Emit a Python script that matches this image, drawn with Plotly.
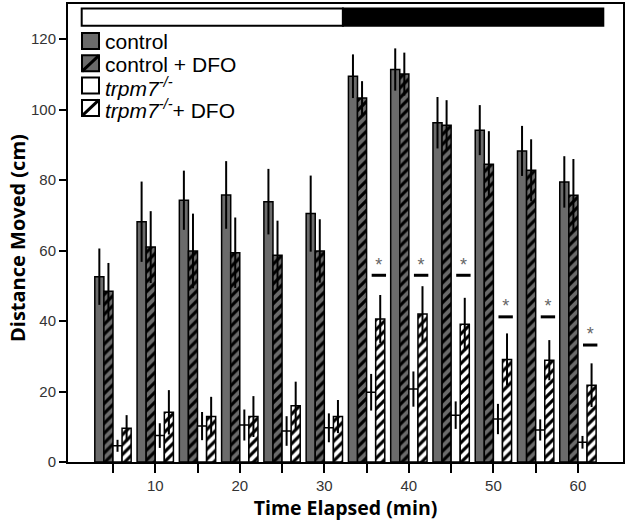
import plotly.graph_objects as go

# ---- data ----
minutes = [5, 10, 15, 20, 25, 30, 35, 40, 45, 50, 55, 60]
control = [52.6, 68.2, 74.3, 75.8, 73.9, 70.5, 109.5, 111.4, 96.3, 94.2, 88.3, 79.5]
control_err = [8.0, 11.4, 8.4, 9.6, 9.3, 10.8, 6.2, 6.0, 7.3, 7.1, 7.1, 7.3]
control_dfo = [48.5, 61.0, 59.9, 59.4, 58.7, 59.9, 103.3, 110.1, 95.6, 84.5, 82.8, 75.7]
control_dfo_err = [8.0, 10.2, 10.6, 10.0, 9.8, 9.0, 4.8, 6.1, 7.1, 9.4, 8.8, 10.3]
trpm7 = [4.6, 7.5, 10.2, 10.5, 8.8, 9.7, 19.8, 20.7, 13.3, 12.2, 9.1, 5.6]
trpm7_err = [1.7, 3.5, 4.0, 4.4, 4.2, 4.1, 5.2, 5.0, 3.9, 4.3, 3.0, 1.8]
trpm7_dfo = [9.6, 14.1, 12.9, 12.9, 16.0, 12.9, 40.6, 42.0, 39.1, 29.1, 28.9, 21.8]
trpm7_dfo_err = [3.7, 6.3, 5.6, 5.8, 6.8, 4.7, 6.8, 7.9, 7.5, 7.4, 5.7, 6.2]

sig_minutes = [35, 40, 45, 50, 55, 60]
sig_level = [53.0, 53.0, 53.0, 41.2, 41.2, 33.2]

light_period = [1.3, 32.2]
dark_period = [32.2, 63.0]
period_band = [123.8, 128.7]

tick_minutes = [5, 10, 15, 20, 25, 30, 35, 40, 45, 50, 55, 60]
tick_text = ["" if m % 10 else str(m) for m in tick_minutes]
y_ticks = [0, 20, 40, 60, 80, 100, 120]

series_names = ["control", "control + DFO",
                "<i>trpm7</i><sup><i>-/-</i></sup>",
                "<i>trpm7</i><sup><i>-/-</i></sup>+ DFO"]

GRAY = "#6b6b6b"
styles = [(GRAY, False), (GRAY, True), ("white", False), ("white", True)]
values = [control, control_dfo, trpm7, trpm7_dfo]
errors = [control_err, control_dfo_err, trpm7_err, trpm7_dfo_err]

W, H = 629, 524
ML, MR, MT, MB = 68, 6, 4, 62

fig = go.Figure()
for name, vals, errs, (col, hatched) in zip(series_names, values, errors, styles):
    marker = dict(color=col, line=dict(color="black", width=1.5))
    if hatched:
        marker["pattern"] = dict(shape="/", fgcolor="black", bgcolor=col,
                                 size=7, solidity=0.45, fillmode="replace")
    fig.add_trace(go.Bar(
        x=minutes, y=vals, name=name, marker=marker, showlegend=False,
        error_y=dict(type="data", array=errs, visible=True,
                     color="black", thickness=2, width=0),
    ))

# significance bars and stars
line_x, line_y = [], []
for m, lvl in zip(sig_minutes, sig_level):
    line_x += [m + 0.6, m + 2.3, None]
    line_y += [lvl, lvl, None]
fig.add_trace(go.Scatter(x=line_x, y=line_y, mode="lines",
                         line=dict(color="black", width=3),
                         showlegend=False, hoverinfo="skip"))
fig.add_trace(go.Scatter(x=[m + 1.45 for m in sig_minutes],
                         y=[l + 2.6 for l in sig_level],
                         mode="text", text=["*"] * len(sig_minutes),
                         textposition="middle center",
                         textfont=dict(size=18, color="#666",
                                       family="Liberation Sans, Arial"),
                         showlegend=False, hoverinfo="skip"))

# light/dark period band
fig.add_shape(type="rect", xref="x", yref="y",
              x0=light_period[0], x1=light_period[1],
              y0=period_band[0], y1=period_band[1],
              fillcolor="white", line=dict(color="black", width=2))
fig.add_shape(type="rect", xref="x", yref="y",
              x0=dark_period[0], x1=dark_period[1],
              y0=period_band[0], y1=period_band[1],
              fillcolor="black", line=dict(color="black", width=2))

# custom legend (paper coordinates derived from pixel layout)
pw, ph = W - ML - MR, H - MT - MB
def px_x(p):
    return (p - ML) / pw
def px_y(p):
    return (H - MB - p) / ph

sq_left, sq_size, row_gap, first_top, text_left = 82, 16, 22.3, 33, 103
for i, (name, (col, hatched)) in enumerate(zip(series_names, styles)):
    top = first_top + i * row_gap
    x0, x1 = px_x(sq_left), px_x(sq_left + sq_size + 1)
    y0, y1 = px_y(top + sq_size), px_y(top)
    fig.add_shape(type="rect", xref="paper", yref="paper",
                  x0=x0, x1=x1, y0=y0, y1=y1, fillcolor=col,
                  line=dict(color="black", width=2))
    if hatched:
        fig.add_shape(type="line", xref="paper", yref="paper",
                      x0=x0, y0=y0, x1=x1, y1=y1,
                      line=dict(color="black", width=3))
    fig.add_annotation(xref="paper", yref="paper",
                       x=px_x(text_left), y=px_y(top + sq_size / 2 + 1),
                       xanchor="left", yanchor="middle", showarrow=False,
                       text=name, font=dict(size=21, color="black",
                                            family="Liberation Sans, Arial"))

# y-axis title as an annotation (slightly below the plot centre, as in the reference)
fig.add_annotation(xref="paper", yref="paper", x=px_x(17), y=px_y(238),
                   xanchor="center", yanchor="middle", showarrow=False,
                   textangle=-90, text="<b>Distance Moved (cm)</b>",
                   font=dict(family="Open Sans", size=20, color="black"))

fig.update_layout(
    width=W, height=H,
    margin=dict(l=ML, r=MR, t=MT, b=MB, autoexpand=False),
    paper_bgcolor="white", plot_bgcolor="white",
    barmode="group", bargap=0.14, bargroupgap=0,
    font=dict(family="Liberation Sans, Arial", color="black"),
    showlegend=False,
    xaxis=dict(range=[-0.32, 65.33], tickmode="array", tickvals=tick_minutes,
               ticktext=tick_text, ticks="outside", ticklen=9, tickwidth=2,
               tickcolor="black", showline=True, linecolor="black",
               linewidth=2, mirror=True, showgrid=False, zeroline=False,
               tickfont=dict(size=15, color="#333"), automargin=False,
               title=dict(text="<b>Time Elapsed (min)</b>", standoff=6,
                          font=dict(family="Open Sans", size=19.5, color="black"))),
    yaxis=dict(range=[0, 130], tickvals=y_ticks, ticks="outside", ticklen=7,
               tickwidth=2, tickcolor="black", showline=True,
               linecolor="black", linewidth=2, mirror=True, showgrid=False,
               zeroline=False, tickfont=dict(size=15, color="#333"),
               automargin=False),
)

fig.write_html("out.html", config={"displayModeBar": False},
               post_script="document.body.style.margin='0';")
